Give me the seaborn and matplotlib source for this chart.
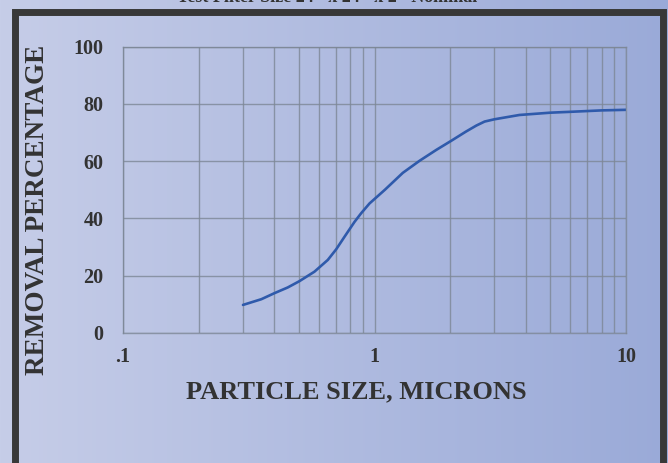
import numpy as np
import matplotlib
matplotlib.use("Agg")
import matplotlib.pyplot as plt
import seaborn as sns
from matplotlib.patches import Rectangle
from matplotlib.ticker import FixedLocator, LogLocator, NullFormatter

# values
particle_size = [0.3, 0.355, 0.4, 0.452, 0.503, 0.577, 0.652, 0.704, 0.76, 0.833, 0.885, 0.955,
                 1.1, 1.296, 1.51, 1.76, 2.02, 2.31, 2.54, 2.74, 3.0, 3.77, 5.0, 6.0, 8.0, 10.0]
removal_pct = [9.8, 11.8, 13.9, 15.9, 18.1, 21.4, 25.5, 29.2, 33.6, 38.8, 41.8, 45.2,
               50.0, 55.9, 60.1, 63.9, 67.1, 70.3, 72.4, 73.8, 74.6, 76.1, 76.9, 77.2, 77.7, 77.9]

x_ticks = [0.1, 1, 10]
x_tick_labels = [".1", "1", "10"]
y_ticks = [0, 20, 40, 60, 80, 100]
y_minor = [10, 30, 50, 70, 90]

TEXT = "#333333"
GRID = "#7d8796"

sns.set_style("white")
plt.rcParams["font.family"] = ["Liberation Serif", "DejaVu Serif"]
plt.rcParams["font.weight"] = "bold"

fig = plt.figure(figsize=(6.68, 4.63), dpi=100)

# gradient background
bg = fig.add_axes([0, 0, 1, 1], zorder=-2)
grad = np.linspace(0, 1, 256).reshape(1, -1)
cmap = matplotlib.colors.LinearSegmentedColormap.from_list("bg", ["#c6cde8", "#9aaad8"])
bg.imshow(grad, aspect="auto", cmap=cmap, extent=[0, 1, 0, 1])
bg.set_axis_off()

# dark frame (bottom edge runs off the picture)
fig.patches.append(Rectangle((15 / 668, -0.2), (663 - 15) / 668, 1.2 - 11.5 / 463,
                             transform=fig.transFigure, fill=False,
                             edgecolor="#383838", linewidth=5, zorder=-1))

# title, mostly cut off above the frame
fig.text(0.49, 1.0 + 2 / 463, 'Test Filter Size 24" x 24" x 2" Nominal', ha="center", va="center",
         fontsize=13, fontweight="bold", color=TEXT)

ax = fig.add_axes([123 / 668, 130 / 463, 503 / 668, 286.5 / 463])
ax.set_facecolor("none")

sns.lineplot(x=particle_size, y=removal_pct, ax=ax, color="#2f5aab", linewidth=1.9)

ax.set_xscale("log")
ax.set_xlim(0.1, 10)
ax.set_ylim(0, 100)

ax.xaxis.set_major_locator(FixedLocator(x_ticks))
ax.set_xticklabels(x_tick_labels)
ax.xaxis.set_minor_locator(LogLocator(base=10, subs=np.arange(2, 10)))
ax.xaxis.set_minor_formatter(NullFormatter())
ax.set_yticks(y_ticks)
ax.set_yticks(y_minor, minor=True)

ax.grid(True, which="both", axis="x", color=GRID, linewidth=1.0, alpha=0.8)
ax.grid(True, which="major", axis="y", color=GRID, linewidth=1.0, alpha=0.8)
ax.tick_params(axis="both", which="major", length=0, labelsize=14.5, labelcolor=TEXT)
ax.tick_params(axis="x", which="major", pad=10)
ax.tick_params(axis="y", which="major", pad=14)
ax.tick_params(axis="x", which="minor", length=0)
ax.tick_params(axis="y", which="minor", direction="in", length=9.5, color=GRID, width=1.0)
for lbl in ax.get_xticklabels() + ax.get_yticklabels():
    lbl.set_fontweight("bold")
for s in ax.spines.values():
    s.set_color(GRID)
    s.set_linewidth(1.0)
    s.set_alpha(0.8)

fig.text(356 / 668, 1 - 392 / 463, "PARTICLE SIZE, MICRONS", ha="center", va="center",
         fontsize=19, fontweight="bold", color=TEXT)
fig.text(38 / 668, 1 - 210 / 463, "REMOVAL PERCENTAGE", ha="center", va="center", rotation=90,
         fontsize=19.5, fontweight="bold", color=TEXT)

fig.savefig("out.png", dpi=100)
